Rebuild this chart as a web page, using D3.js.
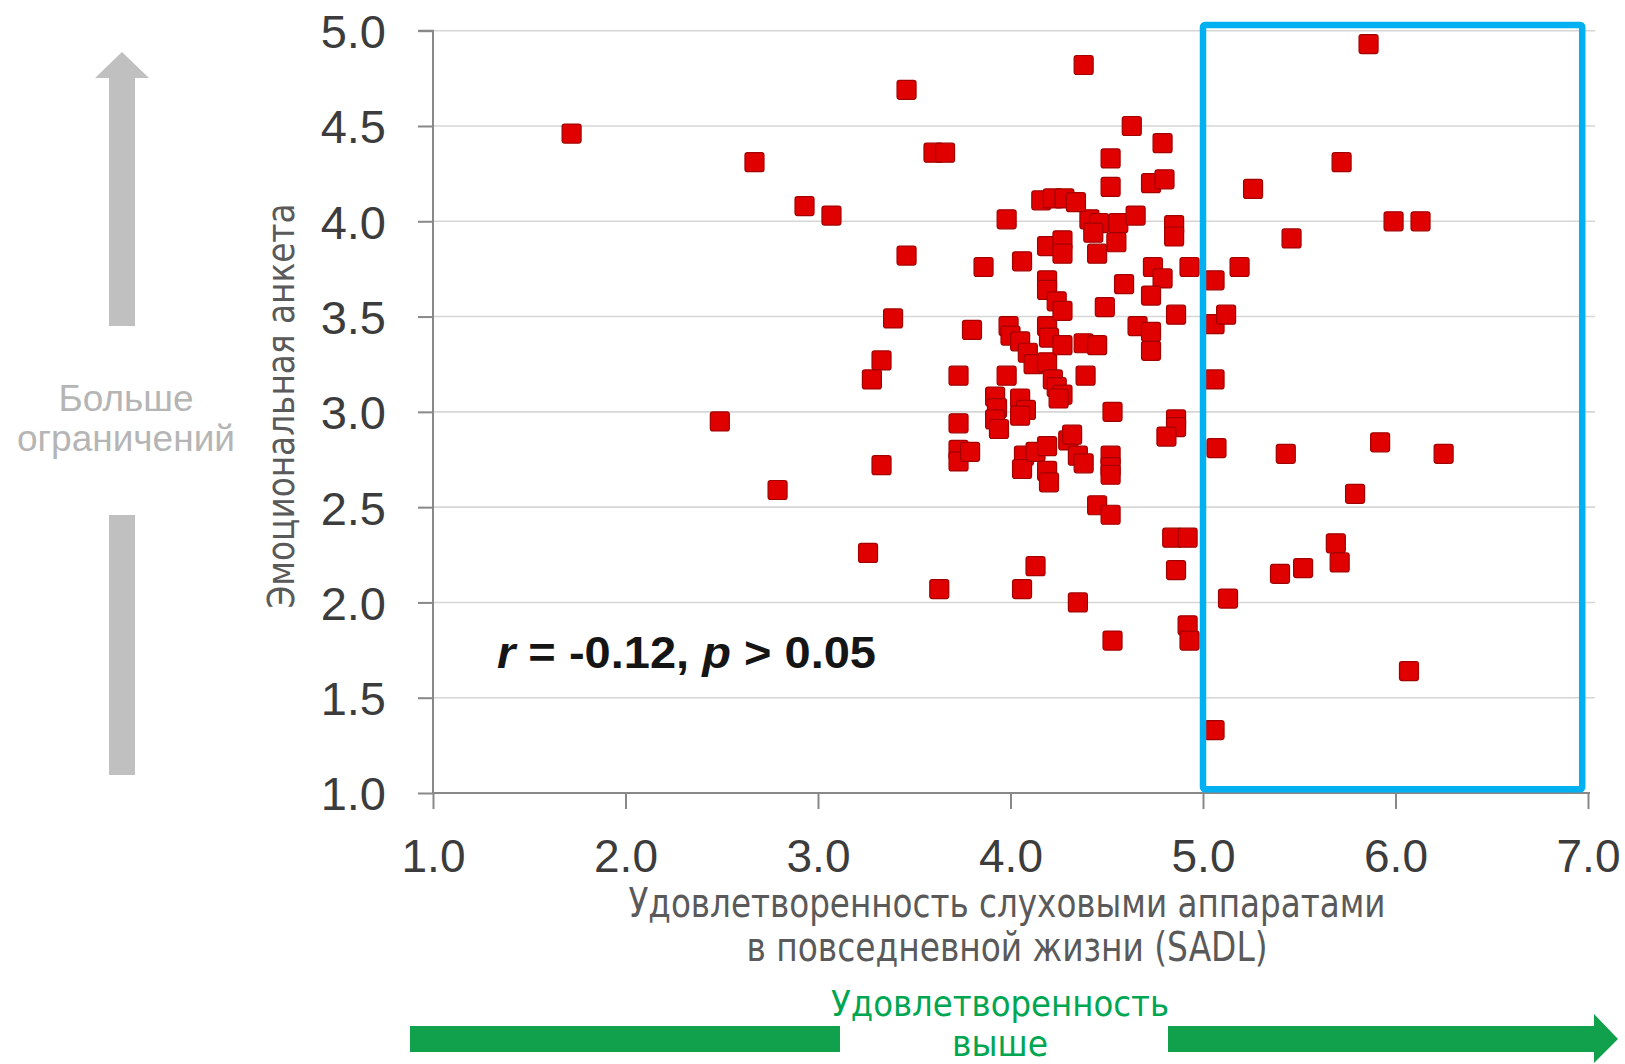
<!DOCTYPE html>
<html>
<head>
<meta charset="utf-8">
<script src="https://cdn.jsdelivr.net/npm/d3@7"></script>
<style>
  html, body { margin: 0; padding: 0; background: #ffffff; }
  svg { display: block; }
</style>
</head>
<body>
<svg id="chart" width="1625" height="1064"></svg>
<script>
// ---- Data ----
const sadlScores = [
  1.72, 2.67, 2.93, 3.07, 2.49, 2.79, 3.26, 3.46, 3.60, 3.66,
  3.46, 3.39, 3.33, 3.28, 3.33, 3.63, 3.86, 3.80, 3.73, 3.73,
  3.73, 3.73, 3.79, 3.92, 3.93, 3.92, 3.94, 3.98, 3.99, 4.00,
  3.98, 4.06, 4.05, 4.08, 4.05, 4.05, 4.09, 4.12, 4.07, 4.06,
  4.13, 4.06, 4.13, 4.19, 4.19, 4.19, 4.19, 4.20, 4.19, 4.22,
  4.24, 4.27, 4.19, 4.19, 4.20, 4.24, 4.27, 4.27, 4.27, 4.27,
  4.25, 4.30, 4.35, 4.38, 4.32, 4.35, 4.38, 4.39, 4.38, 4.45,
  4.41, 4.46, 4.43, 4.45, 4.45, 4.52, 4.52, 4.52, 4.52, 4.53,
  4.53, 4.49, 4.52, 4.52, 4.55, 4.56, 4.59, 4.63, 4.65, 4.66,
  4.74, 4.79, 4.73, 4.73, 4.73, 4.73, 4.80, 4.79, 4.85, 4.85,
  4.93, 4.86, 4.86, 4.86, 4.81, 4.84, 4.92, 4.86, 4.92, 4.93,
  5.06, 5.06, 5.12, 5.06, 5.07, 5.13, 5.06, 5.19, 5.26, 5.46,
  5.43, 5.40, 5.52, 5.69, 5.71, 5.72, 5.79, 5.86, 5.92, 5.99,
  6.13, 6.07, 6.25, 4.16, 4.22, 4.28, 4.34
];
const emotionalScores = [
  4.46, 4.31, 4.08, 4.03, 2.95, 2.59, 2.26, 4.69, 4.36, 4.36,
  3.82, 3.49, 3.27, 3.17, 2.72, 2.07, 3.76, 3.43, 3.19, 2.94,
  2.80, 2.74, 2.79, 3.08, 3.02, 2.96, 2.91, 4.01, 3.45, 3.40,
  3.19, 3.79, 3.07, 3.01, 2.98, 3.37, 3.31, 3.25, 2.77, 2.70,
  2.79, 2.07, 2.19, 3.87, 3.69, 3.64, 3.45, 3.39, 3.26, 3.17,
  3.13, 3.09, 2.82, 2.69, 2.63, 3.58, 3.53, 3.90, 3.83, 3.35,
  3.07, 2.85, 2.00, 4.82, 2.88, 2.77, 2.73, 3.19, 3.36, 3.35,
  4.01, 3.99, 3.94, 3.83, 2.51, 2.46, 2.77, 2.71, 2.67, 3.00,
  1.80, 3.55, 4.33, 4.18, 3.89, 3.99, 3.67, 4.50, 4.03, 3.45,
  3.76, 3.70, 3.61, 3.42, 3.32, 4.20, 4.22, 4.41, 3.98, 3.92,
  3.76, 3.51, 2.96, 2.92, 2.87, 2.34, 2.34, 2.17, 1.88, 1.80,
  3.69, 3.46, 3.51, 3.17, 2.81, 2.02, 1.33, 3.76, 4.17, 3.91,
  2.78, 2.15, 2.18, 2.31, 2.21, 4.31, 2.57, 4.93, 2.84, 4.00,
  4.00, 1.64, 2.78, 4.11, 4.12, 4.12, 4.10
];
const xTicks = [1, 2, 3, 4, 5, 6, 7];
const yTicks = [1.0, 1.5, 2.0, 2.5, 3.0, 3.5, 4.0, 4.5, 5.0];
const xTitleLines = ["Удовлетворенность слуховыми аппаратами", "в повседневной жизни (SADL)"];
const yTitle = "Эмоциональная анкета";
const leftNoteLines = ["Больше", "ограничений"];
const bottomNoteLines = ["Удовлетворенность", "выше"];
const highlightX = [5.0, 6.97];
const highlightY = [1.02, 5.03];

// ---- Layout ----
const svg = d3.select("#chart");
const x = d3.scaleLinear().domain([1, 7]).range([433, 1588]);
const y = d3.scaleLinear().domain([1, 5]).range([793, 30.7]);
const narrow = "'Liberation Sans Narrow', 'Arial Narrow', 'DejaVu Sans Condensed', sans-serif";
const regular = "'Liberation Sans', Arial, sans-serif";

// Gridlines
svg.append("g")
  .selectAll("line")
  .data(yTicks.filter(d => d > 1))
  .join("line")
  .attr("x1", x(1)).attr("x2", 1595)
  .attr("y1", d => y(d)).attr("y2", d => y(d))
  .attr("stroke", "#d6d6d6").attr("stroke-width", 1.6);

// Y axis
const yAxis = d3.axisLeft(y).tickValues(yTicks).tickFormat(d3.format(".1f"))
  .tickSize(15).tickPadding(32);
const gy = svg.append("g").attr("transform", `translate(${x(1)},0)`).call(yAxis);
gy.select(".domain").attr("stroke", "#888").attr("stroke-width", 2).attr("d", `M-15,${y(5)}H0V${y(1)}`);
gy.selectAll(".tick line").attr("stroke", "#888").attr("stroke-width", 2);
gy.selectAll(".tick text").attr("font-family", regular).attr("font-size", 47)
  .attr("fill", "#3c3c3c").attr("dy", "0.36em");

// X axis
const xAxis = d3.axisBottom(x).tickValues(xTicks).tickFormat(d3.format(".1f"))
  .tickSize(16).tickPadding(30);
const gx = svg.append("g").attr("transform", `translate(0,${y(1)})`).call(xAxis);
gx.select(".domain").attr("stroke", "#888").attr("stroke-width", 2).attr("d", `M${x(1)},0H${x(7)+2}`);
gx.selectAll(".tick line").attr("stroke", "#888").attr("stroke-width", 2);
gx.selectAll(".tick text").attr("font-family", regular).attr("font-size", 46)
  .attr("fill", "#3c3c3c").attr("y", 79).attr("dy", 0);

// Points
const pts = sadlScores.map((v, i) => ({ sx: v, ey: emotionalScores[i] }));
const ms = 19;
svg.append("g")
  .selectAll("rect")
  .data(pts)
  .join("rect")
  .attr("x", d => x(d.sx) - ms / 2)
  .attr("y", d => y(d.ey) - ms / 2)
  .attr("width", ms).attr("height", ms)
  .attr("rx", 2.5)
  .attr("fill", "#e00000")
  .attr("stroke", "#a30000")
  .attr("stroke-width", 1.2);

// Highlight rectangle
svg.append("rect")
  .attr("x", x(highlightX[0])).attr("y", y(highlightY[1]))
  .attr("width", x(highlightX[1]) - x(highlightX[0]))
  .attr("height", y(highlightY[0]) - y(highlightY[1]))
  .attr("fill", "none").attr("stroke", "#00b0f0").attr("stroke-width", 6.5)
  .attr("rx", 2);

// Correlation annotation
const ann = svg.append("text")
  .attr("x", 497).attr("y", 668)
  .attr("font-family", regular).attr("font-size", 44).attr("font-weight", "bold")
  .attr("fill", "#151515")
  .attr("textLength", 379).attr("lengthAdjust", "spacingAndGlyphs");
ann.append("tspan").attr("font-style", "italic").text("r");
ann.append("tspan").text(" = -0.12, ");
ann.append("tspan").attr("font-style", "italic").text("p");
ann.append("tspan").text(" > 0.05");

// Y title
svg.append("text")
  .attr("transform", "translate(294,406) rotate(-90)")
  .attr("text-anchor", "middle")
  .attr("font-family", narrow).attr("font-size", 38)
  .attr("fill", "#5a5a5a")
  .attr("textLength", 405).attr("lengthAdjust", "spacingAndGlyphs")
  .text(yTitle);

// X title
const xTitleLens = [757, 521];
const xTitleBase = [917, 961];
svg.append("g").selectAll("text")
  .data(xTitleLines)
  .join("text")
  .attr("x", 1007).attr("y", (d, i) => xTitleBase[i])
  .attr("text-anchor", "middle")
  .attr("font-family", narrow).attr("font-size", 40)
  .attr("fill", "#5a5a5a")
  .attr("textLength", (d, i) => xTitleLens[i]).attr("lengthAdjust", "spacingAndGlyphs")
  .text(d => d);

// Left grey arrow (two parts)
svg.append("path")
  .attr("d", "M109,326 V78 H95 L122,52 L149,78 H135 V326 Z")
  .attr("fill", "#c0c0c0");
svg.append("rect").attr("x", 109).attr("y", 515).attr("width", 26).attr("height", 260)
  .attr("fill", "#c0c0c0");
const leftBase = [411, 451];
svg.append("g").selectAll("text")
  .data(leftNoteLines)
  .join("text")
  .attr("x", 126).attr("y", (d, i) => leftBase[i])
  .attr("text-anchor", "middle")
  .attr("font-family", regular).attr("font-size", 37)
  .attr("fill", "#b5b5b5")
  .text(d => d);

// Bottom green arrow (two parts)
svg.append("rect").attr("x", 410).attr("y", 1026).attr("width", 430).attr("height", 26)
  .attr("fill", "#11a04b");
svg.append("path")
  .attr("d", "M1168,1026 H1594 V1014 L1618,1039 L1594,1063 V1052 H1168 Z")
  .attr("fill", "#11a04b");
const bottomLens = [338, 96];
const bottomBase = [1016, 1056];
svg.append("g").selectAll("text")
  .data(bottomNoteLines)
  .join("text")
  .attr("x", 1000).attr("y", (d, i) => bottomBase[i])
  .attr("text-anchor", "middle")
  .attr("font-family", narrow).attr("font-size", 36)
  .attr("fill", "#00a651")
  .attr("textLength", (d, i) => bottomLens[i]).attr("lengthAdjust", "spacingAndGlyphs")
  .text(d => d);
</script>
</body>
</html>
